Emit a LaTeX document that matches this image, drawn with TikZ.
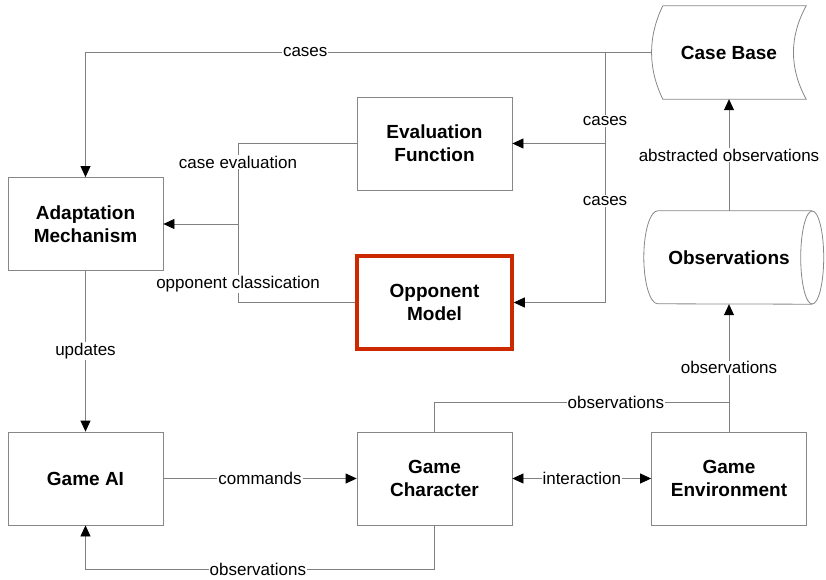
\documentclass[tikz,border=0pt]{standalone}
\usepackage{fontspec}
\setmainfont{Liberation Sans}
\usepackage{xcolor}
\definecolor{wire}{RGB}{128,128,128}
\definecolor{frame}{RGB}{135,135,135}
\definecolor{alert}{RGB}{204,41,0}
\usepackage{tikz}
\usetikzlibrary{arrows.meta,positioning,calc}
\tikzset{
  %% Boxes
  block/.style={
    draw=frame, line width=0.8pt,
    minimum width=155pt, minimum height=93pt,
    align=center, font=\fontsize{19}{23}\selectfont\bfseries,
  },
  %% Stores (outline drawn by hand)
  store/.style={
    minimum width=154pt, minimum height=93pt,
    align=center, font=\fontsize{19}{23}\selectfont\bfseries,
  },
  outline/.style={draw=frame, line width=0.8pt},
  %% Connectors and their labels
  tri/.tip={Triangle[length=11pt,width=10pt,black]},
  link/.style={draw=wire, line width=0.8pt},
  lbl/.style={fill=white, inner sep=1pt, font=\fontsize{17}{20}\selectfont},
}
\begin{document}
\begin{tikzpicture}[x=1pt,y=1pt]
\useasboundingbox (0,0) rectangle (826,579);

%% boxes
\node[block] (adapt) at (85.5,355) {Adaptation\\Mechanism};
\node[block] (evalfn) at (434.5,435.5) {Evaluation\\Function};
\node[block,draw=alert,line width=3.5pt] (oppmodel) at (434.5,276.5) {Opponent\\Model};
\node[block] (gameai) at (85.5,100.5) {Game AI};
\node[block] (gamechar) at (434.5,100.5) {Game\\Character};
\node[block] (gameenv) at (729,100.5) {Game\\Environment};

%% stores
\node[store] (casebase) at (729,526.5) {Case Base};
\draw[outline] ([xshift=11pt]casebase.north west) -- (casebase.north east)
  .. controls +(-17,-31) and +(-17,31) .. (casebase.south east)
  -- ([xshift=11pt]casebase.south west)
  .. controls +(-15,31) and +(-15,-31) .. ([xshift=11pt]casebase.north west);
\node[store] (obs) at (729,321.5) {Observations};
\draw[outline] ([xshift=6pt]obs.north east) -- ([xshift=6pt]obs.north west)
  arc[start angle=90, end angle=270, x radius=14pt, y radius=46.5pt]
  -- ([xshift=6pt]obs.south east);
\draw[outline] ([xshift=6pt]obs.east) ellipse [x radius=11.5pt, y radius=46.5pt];

%% junctions
\coordinate (casesplit) at (605,526.5);
\coordinate (evaljoin) at (238,355);
\coordinate (obsfloor) at (0,10);
\coordinate (obsjoin) at (729,177);

%% connectors
\draw[link,-tri] (casesplit |- evalfn.east) -- (evalfn.east);
\draw[link,-tri] (casesplit) |- node[lbl,pos=0.137]{cases}
  node[lbl,pos=0.297]{cases} (oppmodel.east);
\draw[link,-tri] (casebase.west) -| node[lbl,pos=0.306]{cases} (adapt.north);
\draw[link] (evalfn.west) -| node[lbl,pos=0.615]{case evaluation} (evaljoin);
\draw[link] (oppmodel.west) -| node[lbl,pos=0.618]{opponent classication} (evaljoin);
\draw[link,-tri] (evaljoin) -- (adapt.east);
\draw[link,-tri] (adapt.south) -- node[lbl]{updates} (gameai.north);
\draw[link,-tri] (gameai.east) -- node[lbl]{commands} (gamechar.west);
\draw[link,tri-tri] (gamechar.east) -- node[lbl]{interaction} (gameenv.west);
\draw[link,-tri] (gamechar.south) -- (gamechar.south |- obsfloor)
  -| node[lbl,pos=0.253]{observations} (gameai.south);
\draw[link] (gamechar.north) |- node[lbl,pos=0.808]{observations} (obsjoin);
\draw[link,-tri] (gameenv.north) -- node[lbl]{observations} (obs.south);
\draw[link,-tri] (obs.north) -- node[lbl]{abstracted observations} (casebase.south);
\end{tikzpicture}
\end{document}
